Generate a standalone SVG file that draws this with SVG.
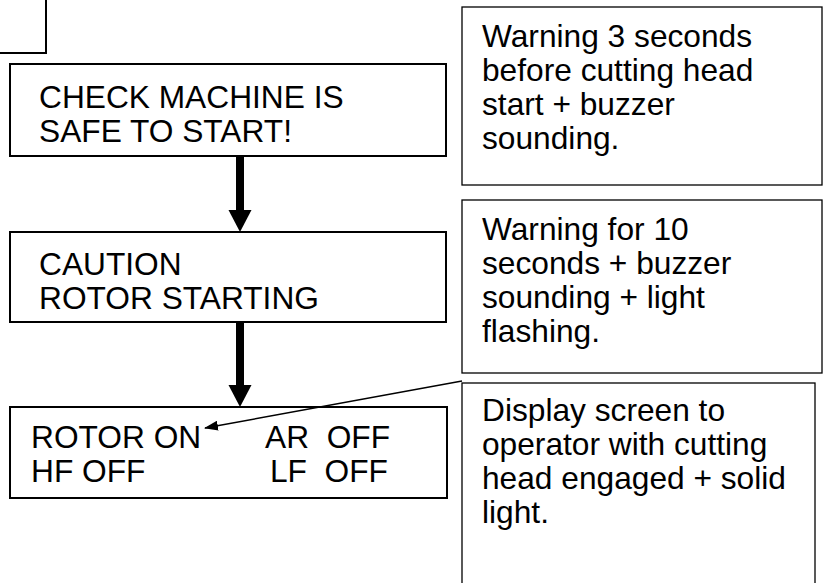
<svg xmlns="http://www.w3.org/2000/svg" width="827" height="583" viewBox="0 0 827 583">
<style>
.bx{fill:#fff;stroke:#000;stroke-width:2}
.nb{fill:#fff;stroke:#000;stroke-width:1.3}
.t{font-family:"Liberation Sans",Arial,sans-serif;font-size:31.7px;fill:#000}
</style>
<defs>
<marker id="ah" markerWidth="14" markerHeight="10" refX="13" refY="5" orient="auto" markerUnits="userSpaceOnUse">
<path d="M0,0 L14,5 L0,10 Z" fill="#000"/>
</marker>
</defs>
<rect width="827" height="583" fill="#fff"/>
<g id="corner"><rect class="bx" x="-10" y="-10" width="56" height="63"/></g>
<g id="n1"><rect class="bx" x="10" y="64" width="436" height="92"/>
<text class="t" x="39" y="108">CHECK MACHINE IS</text>
<text class="t" x="39" y="142">SAFE TO START!</text></g>
<g id="n2"><rect class="bx" x="10" y="232" width="436" height="90"/>
<text class="t" x="39" y="275">CAUTION</text>
<text class="t" x="39" y="309">ROTOR STARTING</text></g>
<g id="n3"><rect class="bx" x="10" y="407" width="437" height="91"/>
<text class="t" x="31" y="448">ROTOR ON</text>
<text class="t" x="265" y="448" xml:space="preserve">AR  OFF</text>
<text class="t" x="31" y="482">HF OFF</text>
<text class="t" x="270" y="482" xml:space="preserve">LF  OFF</text></g>
<g id="r1"><rect class="nb" x="462" y="7" width="360" height="178"/>
<text class="t" x="482" y="47">Warning 3 seconds</text>
<text class="t" x="482" y="81">before cutting head</text>
<text class="t" x="482" y="115">start + buzzer</text>
<text class="t" x="482" y="149">sounding.</text></g>
<g id="r2"><rect class="nb" x="462" y="200" width="360" height="173"/>
<text class="t" x="482" y="240">Warning for 10</text>
<text class="t" x="482" y="274">seconds + buzzer</text>
<text class="t" x="482" y="308">sounding + light</text>
<text class="t" x="482" y="342">flashing.</text></g>
<g id="r3"><rect class="nb" x="462" y="383" width="353" height="220"/>
<text class="t" x="482" y="421">Display screen to</text>
<text class="t" x="482" y="455">operator with cutting</text>
<text class="t" x="482" y="489">head engaged + solid</text>
<text class="t" x="482" y="523">light.</text></g>
<g id="connectors">
<rect x="236" y="157" width="8" height="54"/>
<path d="M228.5,210 L251.5,210 L240,232 Z"/>
<rect x="236" y="323" width="8" height="63"/>
<path d="M228.5,385 L251.5,385 L240,407 Z"/>
<line x1="462" y1="381" x2="205" y2="428" stroke="#000" stroke-width="1.5" marker-end="url(#ah)"/>
</g>
</svg>
